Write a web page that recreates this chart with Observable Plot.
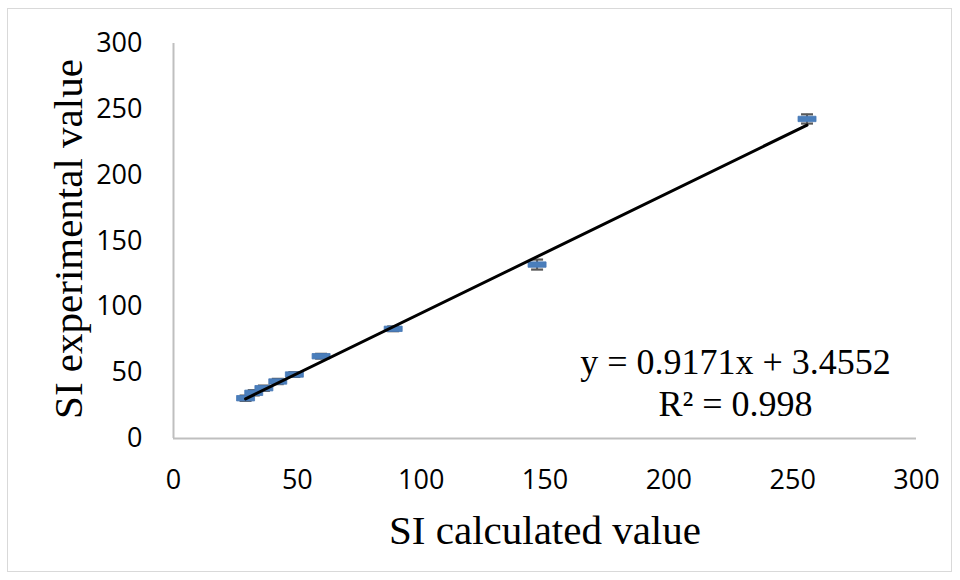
<!DOCTYPE html>
<html><head><meta charset="utf-8">
<script src="https://cdn.jsdelivr.net/npm/d3@7"></script>
<script src="https://cdn.jsdelivr.net/npm/@observablehq/plot@0.6"></script>
<style>
html,body{margin:0;padding:0;background:#fff;}
#wrap{position:relative;width:960px;height:580px;overflow:hidden;}
#wrap svg{position:absolute;left:0;top:0;}
#border{position:absolute;left:7px;top:8px;width:945px;height:564px;border:1.5px solid #d9d9d9;box-sizing:border-box;pointer-events:none;}
</style></head><body><div id="wrap"><div id="border"></div></div>
<script>
// Data
const calculated   = [29.1, 32.4, 36.5, 42.1, 48.8, 59.6, 88.7, 146.8, 255.8];
const experimental = [30.6, 34.7, 38.2, 43.3, 48.6, 62.5, 83.3, 132.1, 242.7];
const errors       = [2.0, 2.0, 2.0, 2.0, 1.8, 1.8, 1.8, 3.8, 3.5];
const xTicks = [0, 50, 100, 150, 200, 250, 300];
const yTicks = [0, 50, 100, 150, 200, 250, 300];
const slope = 0.9171, intercept = 3.4552, rSquared = 0.998;
const xTitle = "SI calculated value";
const yTitle = "SI experimental value";

const points = calculated.map((x, i) => ({x, y: experimental[i], e: errors[i]}));
const xMin = d3.min(calculated), xMax = d3.max(calculated);
const trend = [xMin, xMax].map(x => ({x, y: slope * x + intercept}));
const eqLine1 = `y = ${slope}x + ${intercept}`;
const eqLine2 = `R² = ${rSquared}`;

const markerSymbol = {draw(ctx) { ctx.rect(-9, -2.7, 18, 5.4); }};
const capSymbol = {draw(ctx) { ctx.moveTo(-6, 0); ctx.lineTo(6, 0); }};
const serif = "'Liberation Serif', 'Times New Roman', serif";

const chart = Plot.plot({
  width: 960, height: 580,
  marginLeft: 173, marginRight: 44, marginTop: 43, marginBottom: 142,
  style: {fontFamily: "'Open Sans', sans-serif", fontSize: "27px", color: "#000", background: "transparent"},
  x: {domain: [0, 300]},
  y: {domain: [0, 300]},
  marks: [
    Plot.axisY({ticks: yTicks, tickSize: 0, tickPadding: 31, label: null, fontSize: 27}),
    Plot.axisX({ticks: xTicks, tickSize: 0, tickPadding: 31, label: null, fontSize: 27}),
    Plot.ruleX([0], {stroke: "#bfbfbf", strokeWidth: 2}),
    Plot.ruleY([0], {stroke: "#bfbfbf", strokeWidth: 2}),
    Plot.ruleX(points, {x: "x", y1: d => d.y - d.e, y2: d => d.y + d.e, stroke: "#595959", strokeWidth: 2}),
    Plot.dot(points, {x: "x", y: d => d.y - d.e, symbol: capSymbol, fill: "none", stroke: "#595959", strokeWidth: 2.2}),
    Plot.dot(points, {x: "x", y: d => d.y + d.e, symbol: capSymbol, fill: "none", stroke: "#595959", strokeWidth: 2.2}),
    Plot.dot(points, {x: "x", y: "y", symbol: markerSymbol, fill: "#4a7ebb", stroke: "#4677b5", strokeWidth: 0.8}),
    Plot.line(trend, {x: "x", y: "y", stroke: "#000", strokeWidth: 3}),
    Plot.text([eqLine1], {frameAnchor: "bottom-right", dx: -181, dy: -76, textAnchor: "middle", lineAnchor: "middle", fontFamily: serif, fontSize: 36, fill: "#000"}),
    Plot.text([eqLine2], {frameAnchor: "bottom-right", dx: -181, dy: -34, textAnchor: "middle", lineAnchor: "middle", fontFamily: serif, fontSize: 36, fill: "#000"}),
    Plot.text([xTitle], {frameAnchor: "bottom", dy: 92, textAnchor: "middle", lineAnchor: "middle", fontFamily: serif, fontSize: 41, fill: "#000"}),
    Plot.text([yTitle], {frameAnchor: "left", dx: -105, dy: -2, rotate: -90, textAnchor: "middle", lineAnchor: "middle", fontFamily: serif, fontSize: 41, fill: "#000"})
  ]
});
document.getElementById("wrap").prepend(chart);
</script>
</body></html>
